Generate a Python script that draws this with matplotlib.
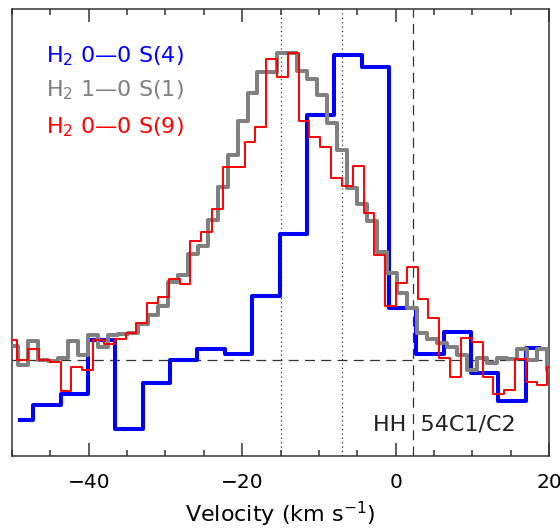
import numpy as np
import matplotlib
matplotlib.use("Agg")
import matplotlib.pyplot as plt
from matplotlib.ticker import MultipleLocator

# channel velocities (km/s) and normalised line profiles
vel_s4 = [-49.01, -45.44, -41.88, -38.31, -34.74, -31.18, -27.61, -24.04, -20.47, -16.91,
          -13.34, -9.77, -6.21, -2.64, 0.93, 4.50, 8.06, 11.63, 15.20, 18.76]
flux_s4 = [-0.195, -0.148, -0.112, 0.065, -0.226, -0.076, 0.0, 0.035, 0.019, 0.208,
           0.409, 0.797, 0.993, 0.953, 0.170, 0.019, 0.090, -0.043, -0.134, 0.038]

vel_s1 = [-49.85, -48.55, -47.25, -45.95, -44.65, -43.35, -42.05, -40.75, -39.45, -38.15,
          -36.85, -35.55, -34.25, -32.95, -31.65, -30.35, -29.05, -27.75, -26.45, -25.15,
          -23.85, -22.55, -21.25, -19.95, -18.65, -17.35, -16.05, -14.75, -13.45, -12.15,
          -10.85, -9.55, -8.25, -6.95, -5.65, -4.35, -3.05, -1.75, -0.45, 0.85,
          2.15, 3.45, 4.75, 6.05, 7.35, 8.65, 9.95, 11.25, 12.55, 13.85,
          15.15, 16.45, 17.75, 19.05, 20.35]
flux_s1 = [0.046, -0.016, 0.062, 0.0, -0.003, 0.006, 0.063, 0.016, 0.081, 0.043,
           0.081, 0.085, 0.089, 0.116, 0.147, 0.176, 0.255, 0.277, 0.345, 0.371,
           0.456, 0.565, 0.668, 0.779, 0.869, 0.937, 0.937, 0.999, 1.0, 0.941,
           0.915, 0.863, 0.773, 0.684, 0.559, 0.508, 0.453, 0.351, 0.282, 0.217,
           0.170, 0.089, 0.067, 0.054, 0.041, 0.016, -0.033, 0.006, -0.009, 0.006,
           0.002, 0.035, 0.0, 0.035, -0.033]

vel_s9 = [-50.0, -48.59, -47.18, -45.77, -44.36, -42.95, -41.54, -40.13, -38.72, -37.31,
          -35.9, -34.49, -33.08, -31.67, -30.26, -28.85, -27.44, -26.03, -24.62, -23.21,
          -21.8, -20.39, -18.98, -17.57, -16.16, -14.75, -13.34, -11.93, -10.52, -9.11,
          -7.7, -6.29, -4.88, -3.47, -2.06, -0.65, 0.76, 2.17, 3.58, 4.99,
          6.4, 7.81, 9.22, 10.63, 12.04, 13.45, 14.86, 16.27, 17.68, 19.09, 20.5]
flux_s9 = [0.065, 0.0, 0.035, 0.0, -0.006, -0.100, -0.024, -0.033, 0.065, 0.052,
           0.067, 0.089, 0.119, 0.185, 0.205, 0.263, 0.248, 0.388, 0.416, 0.491,
           0.630, 0.630, 0.711, 0.760, 0.980, 0.921, 1.0, 0.778, 0.727, 0.695,
           0.592, 0.568, 0.632, 0.478, 0.342, 0.176, 0.252, 0.302, 0.198, 0.136,
           0.006, -0.054, 0.071, 0.060, -0.056, -0.111, -0.098, 0.004, -0.071, -0.083, -0.022]

dotted_vels = [-15.0, -7.0]
dashed_vel = 2.25
labels = ["H$_2$ 0\u20140 S(4)", "H$_2$ 1\u20140 S(1)", "H$_2$ 0\u20140 S(9)"]
colors = ['#0000ff', '#808080', '#ff0000']

plt.rcParams['font.family'] = ['DejaVu Sans']
plt.rcParams['mathtext.fontset'] = 'dejavusans'

fig = plt.figure(figsize=(5.6, 5.32), dpi=100)
ax = fig.add_axes([12 / 560, 1 - 456 / 532, 537 / 560, 447 / 532])

ax.step(vel_s4, flux_s4, where='mid', color=colors[0], lw=2.9, zorder=3)
ax.step(vel_s1, flux_s1, where='mid', color=colors[1], lw=2.9, zorder=4)
ax.step(vel_s9, flux_s9, where='mid', color=colors[2], lw=1.4, zorder=5)

ax.axhline(0, color='#333333', lw=0.9, ls=(0, (8, 5)), zorder=2)
for v in dotted_vels:
    ax.axvline(v, color='#333333', lw=0.9, ls=(0, (1, 2.5)), zorder=2)
ax.axvline(dashed_vel, color='#333333', lw=0.9, ls=(0, (8, 5)), zorder=2)

ax.set_xlim(-50, 20)
ax.set_ylim(-0.3127, 1.1433)
ax.set_yticks([])
ax.xaxis.set_major_locator(MultipleLocator(20))
ax.xaxis.set_minor_locator(MultipleLocator(5))
ax.tick_params(axis='x', which='both', direction='in', top=True, color='#333333',
               labelsize=14.5, pad=12)
ax.tick_params(axis='x', which='major', length=9.5, width=1.1)
ax.tick_params(axis='x', which='minor', length=4.5, width=1.1)
for sp in ax.spines.values():
    sp.set_color('#333333')
    sp.set_linewidth(1.1)

ax.set_xlabel("Velocity (km s$^{-1}$)", fontsize=16, labelpad=6)

for i, (lab, col) in enumerate(zip(labels, colors)):
    ax.text(0.064, [0.880, 0.804, 0.722][i], lab, color=col, fontsize=16,
            transform=ax.transAxes, va='baseline', ha='left')

ax.text(0.673, 0.058, "HH  54C1/C2", fontsize=16, color='#222222',
        transform=ax.transAxes, va='baseline', ha='left')

fig.savefig("out.png", dpi=100)
